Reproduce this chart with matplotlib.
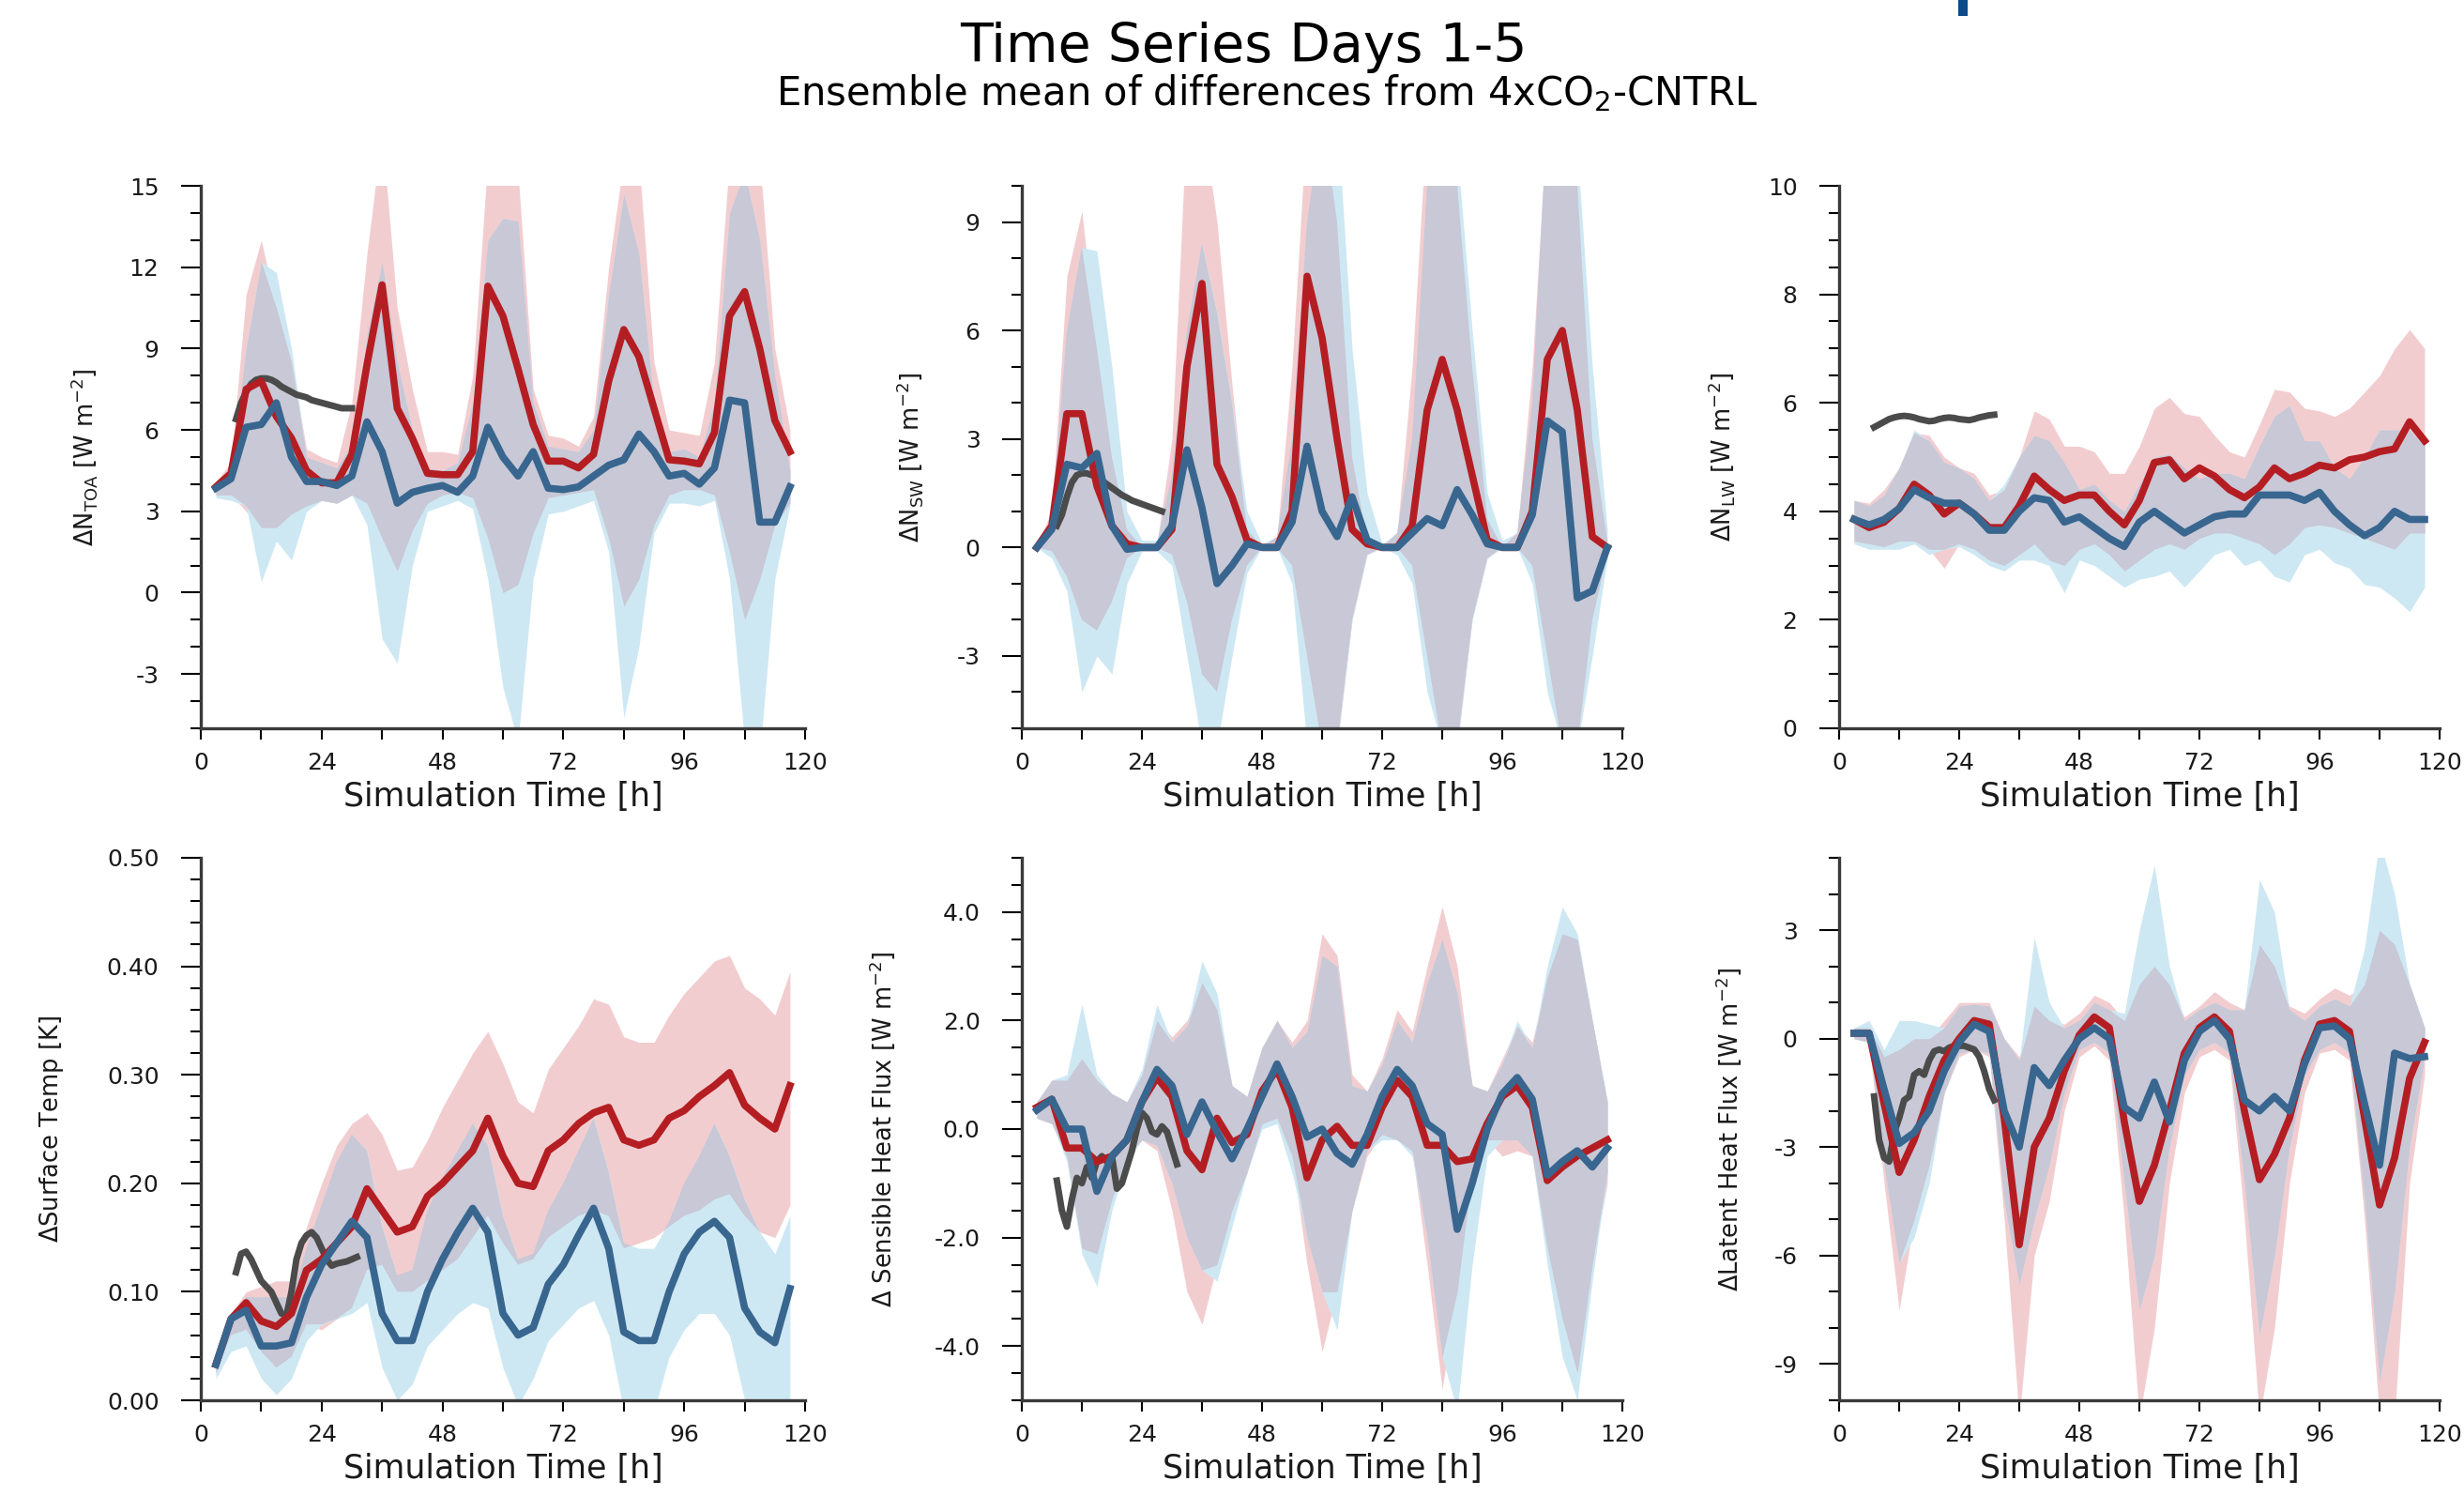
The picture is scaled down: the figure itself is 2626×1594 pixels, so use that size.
import numpy as np
import matplotlib
matplotlib.use('Agg')
from matplotlib import pyplot as plt
from matplotlib.patches import Rectangle
from matplotlib.ticker import MultipleLocator, FormatStrFormatter

plt.rcParams['font.family'] = ['DejaVu Sans']
plt.rcParams['mathtext.fontset'] = 'dejavusans'
plt.rcParams['mathtext.default'] = 'regular'
plt.rcParams['axes.unicode_minus'] = False

# simulation time [h] of the ensemble output (3-hourly) and of the single run (hourly)
hours = np.arange(3, 120, 3)
hours_single = np.arange(7, 32)

# --- dN TOA ---
toa_red = [3.9, 4.4, 7.5, 7.8, 6.5, 5.7, 4.5, 4.05, 4.05, 5.1, 8.4, 11.35, 6.8, 5.7, 4.4, 4.35, 4.35, 5.2, 11.3, 10.2,
           8.25, 6.2, 4.85, 4.85, 4.6, 5.1, 7.8, 9.7, 8.7, 6.8, 4.9, 4.85, 4.75, 5.9, 10.2, 11.1, 9.0, 6.35, 5.2]
toa_blue = [3.85, 4.2, 6.1, 6.2, 7.0, 5.0, 4.1, 4.1, 3.95, 4.3, 6.3, 5.2, 3.3, 3.7, 3.85, 3.95, 3.7, 4.3, 6.1, 5.0,
            4.3, 5.2, 3.85, 3.8, 3.9, 4.3, 4.7, 4.9, 5.85, 5.2, 4.3, 4.4, 4.0, 4.6, 7.1, 7.0, 2.6, 2.6, 3.9]
toa_red_hi = [4.1, 4.8, 11.0, 13.0, 10.5, 8.5, 5.3, 5.0, 4.8, 7.0, 12.5, 17, 10.5, 7.5, 5.2, 5.2, 5.1, 8.0, 16, 17,
              15.5, 7.5, 5.8, 5.7, 5.4, 6.5, 12, 16, 16, 8.5, 6.0, 5.9, 5.8, 8.5, 16, 17, 16, 9, 6.0]
toa_red_lo = [3.6, 3.6, 3.0, 2.4, 2.4, 2.9, 3.2, 3.4, 3.3, 3.6, 3.3, 2.0, 0.8, 2.3, 3.3, 3.6, 3.7, 3.5, 2.0, 0.0,
              0.3, 2.2, 3.5, 3.6, 3.7, 3.8, 2.0, -0.5, 0.5, 2.5, 3.6, 3.8, 3.8, 3.6, 1.5, -1.0, 0.5, 2.5, 3.3]
toa_blue_hi = [4.0, 4.6, 9.0, 12.2, 11.8, 9.0, 5.0, 4.8, 4.6, 5.5, 9.5, 12.2, 8.5, 6.0, 4.6, 4.5, 4.8, 7.0, 13.0, 13.8,
               13.7, 7.0, 5.4, 5.3, 5.2, 6.0, 11.0, 14.7, 12.5, 7.0, 5.2, 5.3, 5.0, 7.0, 14, 15.5, 13, 8.0, 4.5]
toa_blue_lo = [3.5, 3.4, 3.2, 0.4, 1.9, 1.2, 3.0, 3.4, 3.3, 3.6, 2.5, -1.7, -2.6, 1.0, 3.0, 3.2, 3.4, 3.1, 0.5, -3.5,
               -5.5, 0.5, 2.9, 3.0, 3.2, 3.4, 1.5, -4.6, -2.0, 2.2, 3.3, 3.3, 3.2, 3.4, 0.5, -5.5, -6, 0.5, 3.2]
toa_single = [6.4, 7.0, 7.4, 7.7, 7.85, 7.9, 7.9, 7.85, 7.75, 7.6, 7.5, 7.4, 7.3, 7.25, 7.2, 7.1, 7.05, 7.0, 6.95,
              6.9, 6.85, 6.8, 6.8, 6.8, np.nan]

# --- dN SW ---
sw_red = [0, 0.6, 3.7, 3.7, 1.7, 0.6, 0.1, 0, 0, 0.5, 5.0, 7.3, 2.3, 1.4, 0.2, 0, 0, 1.0, 7.5, 5.8,
          3.0, 0.5, 0.1, 0, 0, 0.6, 3.8, 5.2, 3.8, 2.0, 0.2, 0, 0, 1.0, 5.2, 6.0, 3.8, 0.3, 0.0]
sw_blue = [0, 0.5, 2.3, 2.2, 2.6, 0.6, -0.05, 0, 0, 0.6, 2.7, 1.1, -1.0, -0.5, 0.1, 0, 0, 0.7, 2.8, 1.0,
           0.3, 1.4, 0.2, 0, 0, 0.4, 0.8, 0.6, 1.6, 0.9, 0.1, 0, 0, 0.9, 3.5, 3.2, -1.4, -1.2, 0.0]
sw_red_hi = [0.1, 1.0, 7.5, 9.3, 5.5, 2.5, 0.5, 0.0, 0.1, 3.0, 12, 12, 9.0, 4.5, 0.5, 0.0, 0.3, 5.0, 12, 12,
             9.0, 2.5, 0.2, 0.0, 0.4, 5.0, 12, 12, 10, 5.0, 0.8, 0.0, 0.4, 5.0, 12, 12, 10, 3.0, 0.2]
sw_red_lo = [0, -0.1, -0.8, -2.0, -2.3, -1.5, -0.3, 0, 0, -0.2, -1.5, -3.5, -4.0, -2.0, -0.5, 0, 0, -0.5, -3.0, -5.5,
             -5.5, -2.0, -0.2, 0, 0, -0.5, -3.0, -5.5, -5.5, -2.0, -0.3, 0, 0, -0.5, -3.0, -5.5, -5.5, -2.0, -0.2]
sw_blue_hi = [0.1, 0.8, 6.0, 8.3, 8.2, 5.0, 1.0, 0.2, 0.2, 2.0, 6.0, 8.4, 6.5, 4.0, 1.0, 0.1, 0.3, 3.0, 9.0, 12,
              12, 5.5, 1.5, 0.1, 0.4, 3.0, 10, 12, 11, 6.0, 1.5, 0.2, 0.4, 4.0, 12, 12, 11, 5.0, 0.5]
sw_blue_lo = [0, -0.3, -1.2, -4.0, -3.0, -3.5, -1.0, -0.1, -0.1, -0.5, -3.0, -5.5, -5.5, -3.0, -0.7, 0, 0, -1.0, -5.5,
              -5.5, -5.5, -2.0, -0.2, 0, -0.2, -1.0, -4.0, -5.5, -5.5, -2.0, -0.3, 0, 0, -1.0, -4.0, -5.5, -5.5, -3.0,
              -0.3]
sw_single = [0.6, 0.9, 1.4, 1.8, 2.0, 2.05, 2.05, 2.0, 1.95, 1.85, 1.75, 1.65, 1.55, 1.45, 1.38, 1.3, 1.25, 1.2, 1.15,
             1.1, 1.05, 1.0, np.nan, np.nan, np.nan]

# --- dN LW ---
lw_red = [3.85, 3.7, 3.8, 4.05, 4.5, 4.3, 3.95, 4.15, 3.95, 3.7, 3.7, 4.1, 4.65, 4.4, 4.2, 4.3, 4.3, 4.0, 3.75, 4.2,
          4.9, 4.95, 4.6, 4.8, 4.65, 4.4, 4.25, 4.45, 4.8, 4.6, 4.7, 4.85, 4.8, 4.95, 5.0, 5.1, 5.15, 5.65, 5.3]
lw_blue = [3.85, 3.75, 3.85, 4.05, 4.4, 4.25, 4.15, 4.15, 3.95, 3.65, 3.65, 4.0, 4.25, 4.2, 3.8, 3.9, 3.7, 3.5, 3.35,
           3.8, 4.0, 3.8, 3.6, 3.75, 3.9, 3.95, 3.95, 4.3, 4.3, 4.3, 4.2, 4.35, 4.0, 3.75, 3.55, 3.7, 4.0, 3.85, 3.85]
lw_red_hi = [4.2, 4.15, 4.4, 4.8, 5.45, 5.4, 5.0, 4.8, 4.7, 4.3, 4.4, 5.0, 5.85, 5.7, 5.2, 5.2, 5.1, 4.7, 4.7, 5.2,
             5.9, 6.1, 5.8, 5.75, 5.4, 5.1, 5.0, 5.6, 6.25, 6.2, 5.9, 5.85, 5.75, 5.9, 6.2, 6.5, 7.0, 7.35, 7.0]
lw_red_lo = [3.45, 3.4, 3.35, 3.45, 3.45, 3.3, 2.95, 3.4, 3.3, 3.1, 3.0, 3.2, 3.4, 3.1, 3.0, 3.3, 3.4, 3.2, 2.9, 3.1,
             3.3, 3.4, 3.3, 3.5, 3.6, 3.6, 3.5, 3.4, 3.2, 3.4, 3.7, 3.75, 3.7, 3.6, 3.5, 3.4, 3.3, 3.6, 3.6]
lw_blue_hi = [4.2, 4.1, 4.3, 4.8, 5.5, 5.3, 4.9, 4.8, 4.6, 4.2, 4.5, 5.0, 5.4, 5.3, 4.9, 4.4, 4.5, 4.2, 4.0, 4.5,
              5.0, 5.05, 4.8, 4.6, 4.7, 4.7, 4.6, 5.2, 5.75, 5.95, 5.3, 5.3, 4.8, 4.6, 5.0, 5.5, 5.5, 5.5, 5.2]
lw_blue_lo = [3.4, 3.3, 3.3, 3.3, 3.4, 3.2, 3.3, 3.35, 3.2, 3.0, 2.9, 3.1, 3.1, 3.0, 2.5, 3.1, 3.0, 2.8, 2.6, 2.75,
              2.8, 2.9, 2.6, 2.9, 3.2, 3.3, 3.0, 3.1, 2.8, 2.7, 3.2, 3.3, 3.05, 2.95, 2.65, 2.6, 2.4, 2.15, 2.6]
lw_single = [5.55, 5.6, 5.65, 5.7, 5.73, 5.75, 5.76, 5.75, 5.73, 5.7, 5.68, 5.66, 5.67, 5.7, 5.72, 5.73, 5.72, 5.7,
             5.69, 5.68, 5.7, 5.73, 5.75, 5.77, 5.78]

# --- dSurface temperature ---
ts_red = [0.033, 0.075, 0.09, 0.073, 0.068, 0.08, 0.12, 0.13, 0.145, 0.16, 0.195, 0.175, 0.155, 0.16, 0.188, 0.2,
          0.215, 0.23, 0.26, 0.225, 0.2, 0.197, 0.23, 0.24, 0.255, 0.265, 0.27, 0.24, 0.235, 0.24, 0.26, 0.267, 0.28,
          0.29, 0.302, 0.272, 0.26, 0.25, 0.29]
ts_blue = [0.033, 0.075, 0.083, 0.05, 0.05, 0.053, 0.095, 0.125, 0.145, 0.165, 0.15, 0.08, 0.055, 0.055, 0.1, 0.13,
           0.155, 0.177, 0.155, 0.08, 0.06, 0.067, 0.107, 0.125, 0.152, 0.177, 0.14, 0.063, 0.055, 0.055, 0.1, 0.135,
           0.155, 0.165, 0.15, 0.085, 0.063, 0.053, 0.103]
ts_red_hi = [0.04, 0.08, 0.1, 0.105, 0.11, 0.11, 0.16, 0.2, 0.235, 0.255, 0.265, 0.245, 0.212, 0.215, 0.24, 0.27,
             0.295, 0.32, 0.34, 0.31, 0.275, 0.265, 0.305, 0.325, 0.345, 0.37, 0.365, 0.335, 0.33, 0.33, 0.355, 0.375,
             0.39, 0.405, 0.41, 0.38, 0.37, 0.355, 0.395]
ts_red_lo = [0.025, 0.06, 0.065, 0.045, 0.03, 0.04, 0.07, 0.065, 0.075, 0.085, 0.12, 0.125, 0.1, 0.1, 0.11, 0.12,
             0.13, 0.15, 0.17, 0.145, 0.125, 0.13, 0.15, 0.16, 0.17, 0.175, 0.17, 0.14, 0.145, 0.15, 0.16, 0.17,
             0.175, 0.185, 0.19, 0.17, 0.155, 0.15, 0.18]
ts_blue_hi = [0.035, 0.075, 0.095, 0.095, 0.095, 0.095, 0.14, 0.18, 0.22, 0.245, 0.23, 0.16, 0.115, 0.12, 0.175,
              0.205, 0.23, 0.255, 0.235, 0.17, 0.13, 0.135, 0.175, 0.2, 0.23, 0.26, 0.21, 0.145, 0.14, 0.14, 0.165,
              0.2, 0.225, 0.255, 0.225, 0.185, 0.155, 0.135, 0.17]
ts_blue_lo = [0.02, 0.045, 0.05, 0.02, 0.005, 0.02, 0.055, 0.07, 0.075, 0.08, 0.09, 0.03, 0.0, 0.015, 0.05, 0.065,
              0.08, 0.09, 0.085, 0.03, -0.005, 0.02, 0.055, 0.07, 0.085, 0.092, 0.06, -0.01, -0.01, -0.01, 0.04,
              0.065, 0.08, 0.08, 0.06, 0.0, -0.01, -0.01, 0.0]
ts_single = [0.118, 0.135, 0.137, 0.13, 0.12, 0.11, 0.105, 0.1, 0.09, 0.08, 0.078, 0.1, 0.13, 0.145, 0.152, 0.155,
             0.15, 0.14, 0.13, 0.124, 0.126, 0.127, 0.128, 0.13, 0.132]

# --- d sensible heat flux ---
sh_red = [0.4, 0.55, -0.35, -0.35, -0.6, -0.5, -0.2, 0.5, 0.95, 0.6, -0.4, -0.75, 0.2, -0.25, -0.1, 0.7, 1.1, 0.4,
          -0.9, -0.2, 0.05, -0.3, -0.3, 0.4, 0.9, 0.6, -0.3, -0.3, -0.6, -0.55, 0.1, 0.6, 0.8, 0.4, -0.95, -0.7, -0.5,
          -0.35, -0.2]
sh_blue = [0.35, 0.55, 0.0, 0.0, -1.15, -0.5, -0.2, 0.5, 1.1, 0.8, -0.1, 0.5, -0.05, -0.55, 0.0, 0.6, 1.2, 0.6,
           -0.15, 0.0, -0.45, -0.65, -0.1, 0.6, 1.1, 0.8, 0.1, -0.1, -1.85, -1.0, 0.0, 0.65, 0.95, 0.55, -0.85, -0.6,
           -0.4, -0.7, -0.35]
sh_red_hi = [0.5, 0.9, 0.9, 1.3, 0.9, 0.65, 0.5, 1.0, 2.0, 1.7, 2.0, 2.7, 2.2, 0.8, 0.6, 1.5, 2.0, 1.6, 2.0, 3.6,
             3.2, 1.0, 0.7, 1.3, 2.2, 1.8, 3.0, 4.1, 3.0, 0.8, 0.7, 1.3, 1.9, 1.6, 2.8, 3.6, 3.5, 2.0, 0.5]
sh_red_lo = [0.2, 0.1, -0.5, -2.2, -2.3, -1.3, -0.5, -0.2, -0.4, -1.5, -3.0, -3.6, -2.5, -1.5, -0.8, 0.1, 0.2, -0.5,
             -2.5, -4.1, -3.0, -1.5, -0.5, -0.1, -0.2, -0.4, -2.5, -4.8, -3.0, -0.8, -0.2, -0.5, -0.4, -0.5, -2.2,
             -3.5, -4.5, -2.5, -1.0]
sh_blue_hi = [0.5, 0.9, 1.0, 2.3, 1.0, 0.65, 0.5, 1.1, 2.3, 1.6, 1.9, 3.1, 2.5, 0.8, 0.6, 1.5, 2.0, 1.5, 1.8, 3.2,
              3.0, 0.8, 0.7, 1.2, 2.0, 1.6, 2.7, 3.5, 2.5, 0.8, 0.7, 1.2, 2.0, 1.5, 3.0, 4.1, 3.6, 2.0, 0.5]
sh_blue_lo = [0.2, 0.1, -0.6, -2.3, -2.9, -1.5, -0.6, -0.2, -0.3, -1.0, -2.0, -2.6, -2.8, -1.8, -0.8, 0.0, 0.1, -0.8,
              -2.0, -3.0, -3.7, -1.5, -0.4, -0.2, -0.2, -0.5, -2.0, -4.2, -5.2, -2.5, -0.5, -0.2, -0.2, -0.5, -2.5,
              -4.2, -5.0, -2.8, -0.8]
sh_single = [-0.95, -1.5, -1.8, -1.3, -0.9, -1.0, -0.7, -0.9, -0.6, -0.5, -0.6, -0.5, -1.1, -1.0, -0.7, -0.4, 0.0,
             0.3, 0.2, -0.05, -0.1, 0.05, -0.05, -0.35, -0.65]

# --- d latent heat flux ---
lh_red = [0.15, 0.15, -1.8, -3.7, -2.8, -1.6, -0.6, 0.0, 0.5, 0.4, -2.2, -5.7, -3.0, -2.2, -0.9, 0.1, 0.6, 0.3, -2.3,
          -4.5, -3.5, -2.0, -0.4, 0.3, 0.6, 0.2, -2.0, -3.9, -3.2, -2.2, -0.6, 0.4, 0.5, 0.2, -2.2, -4.6, -3.3, -1.1,
          -0.1]
lh_blue = [0.15, 0.15, -1.4, -2.9, -2.6, -2.0, -0.9, -0.1, 0.4, 0.2, -2.0, -3.0, -0.8, -1.3, -0.6, 0.0, 0.3, 0.0,
           -1.9, -2.2, -1.2, -2.3, -0.6, 0.2, 0.5, 0.0, -1.7, -2.0, -1.6, -2.0, -0.7, 0.3, 0.35, 0.0, -1.8, -3.5, -0.4,
           -0.55, -0.5]
lh_red_hi = [0.3, 0.3, -0.5, -0.3, 0.0, 0.0, 0.5, 1.0, 1.0, 1.0, 0.0, -0.5, 0.9, 0.5, 0.4, 0.7, 1.2, 1.0, 0.5, 1.5,
             2.0, 1.5, 0.6, 0.9, 1.3, 1.0, 0.8, 2.6, 2.0, 0.9, 0.7, 1.1, 1.4, 1.2, 1.5, 3.0, 2.6, 1.5, 0.3]
lh_red_lo = [0.0, -0.1, -4.0, -7.5, -5.0, -3.5, -1.5, -0.5, -0.3, -0.5, -5.0, -10.5, -6.0, -4.5, -2.0, -0.5, -0.2,
             -0.6, -5.0, -10.5, -8.0, -4.0, -1.5, -0.5, -0.3, -0.6, -5.0, -10.5, -8.0, -4.0, -1.5, -0.4, -0.3, -0.6,
             -5.0, -10.5, -10.5, -4.0, -1.0]
lh_blue_hi = [0.3, 0.5, -0.3, 0.5, 0.5, 0.4, 0.3, 0.9, 0.95, 0.9, 0.0, -0.6, 2.8, 1.0, 0.3, 0.5, 1.0, 0.8, 0.7, 3.0,
              4.8, 2.0, 0.5, 0.8, 1.0, 0.8, 0.8, 4.4, 3.5, 0.8, 0.5, 0.9, 1.1, 0.9, 2.5, 5.5, 4.0, 1.5, 0.3]
lh_blue_lo = [0.0, -0.1, -3.5, -6.2, -5.5, -4.0, -1.5, -0.4, -0.3, -0.4, -4.5, -6.8, -5.0, -3.5, -1.5, -0.3, -0.1,
              -0.4, -4.0, -7.5, -6.0, -3.0, -1.0, -0.3, -0.1, -0.4, -4.0, -8.2, -6.0, -3.0, -1.0, -0.3, -0.1, -0.4,
              -4.5, -9.5, -7.0, -3.0, -0.5]
lh_single = [-1.6, -2.8, -3.3, -3.4, -2.6, -2.2, -1.7, -1.6, -1.0, -0.9, -1.0, -0.6, -0.35, -0.3, -0.35, -0.25, -0.2,
             -0.2, -0.2, -0.25, -0.3, -0.5, -0.9, -1.4, -1.7]

ylabels = [r'$\Delta$N$_{\mathrm{TOA}}$ [W m$^{\mathrm{-2}}$]',
           r'$\Delta$N$_{\mathrm{SW}}$ [W m$^{\mathrm{-2}}$]',
           r'$\Delta$N$_{\mathrm{LW}}$ [W m$^{\mathrm{-2}}$]',
           r'$\Delta$Surface Temp [K]',
           r'$\Delta$ Sensible Heat Flux [W m$^{\mathrm{-2}}$]',
           r'$\Delta$Latent Heat Flux [W m$^{\mathrm{-2}}$]']

RED = '#b41e23'
BLUE = '#38668f'
GREY = '#4b4b4b'
PINK = '#f2cdd0'
LBLUE = '#cee8f3'
OVERLAP = '#c8c8d6'

panels = [
    dict(red=toa_red, blue=toa_blue, rhi=toa_red_hi, rlo=toa_red_lo, bhi=toa_blue_hi, blo=toa_blue_lo,
         single=toa_single, ylim=(-5, 15), major=3, minor=1, fmt='%d'),
    dict(red=sw_red, blue=sw_blue, rhi=sw_red_hi, rlo=sw_red_lo, bhi=sw_blue_hi, blo=sw_blue_lo,
         single=sw_single, ylim=(-5, 10), major=3, minor=1, fmt='%d'),
    dict(red=lw_red, blue=lw_blue, rhi=lw_red_hi, rlo=lw_red_lo, bhi=lw_blue_hi, blo=lw_blue_lo,
         single=lw_single, ylim=(0, 10), major=2, minor=0.5, fmt='%d'),
    dict(red=ts_red, blue=ts_blue, rhi=ts_red_hi, rlo=ts_red_lo, bhi=ts_blue_hi, blo=ts_blue_lo,
         single=ts_single, ylim=(0, 0.5), major=0.1, minor=0.02, fmt='%.2f'),
    dict(red=sh_red, blue=sh_blue, rhi=sh_red_hi, rlo=sh_red_lo, bhi=sh_blue_hi, blo=sh_blue_lo,
         single=sh_single, ylim=(-5, 5), major=2, minor=0.5, fmt='%.1f'),
    dict(red=lh_red, blue=lh_blue, rhi=lh_red_hi, rlo=lh_red_lo, bhi=lh_blue_hi, blo=lh_blue_lo,
         single=lh_single, ylim=(-10, 5), major=3, minor=1, fmt='%d'),
]

W, H = 2626, 1594
lefts = [214, 1089, 1960]
widths = [644, 640, 640]
bottoms = [776, 1492]
ylabel_x = [-0.193, -0.187, -0.195, -0.247, -0.232, -0.184]

fig = plt.figure(figsize=(W / 100, H / 100), dpi=100)

for i, p in enumerate(panels):
    row, col = divmod(i, 3)
    ax = fig.add_axes([lefts[col] / W, 1 - bottoms[row] / H, widths[col] / W, 578 / H])

    rlo, rhi = np.array(p['rlo']), np.array(p['rhi'])
    blo, bhi = np.array(p['blo']), np.array(p['bhi'])
    ax.fill_between(hours, rlo, rhi, color=PINK, lw=0)
    ax.fill_between(hours, blo, bhi, color=LBLUE, lw=0)
    lo = np.maximum(rlo, blo)
    hi = np.minimum(rhi, bhi)
    ax.fill_between(hours, lo, hi, where=hi > lo, interpolate=True, color=OVERLAP, lw=0)

    ax.plot(hours_single, p['single'], color=GREY, lw=5)
    ax.plot(hours, p['red'], color=RED, lw=5.5)
    ax.plot(hours, p['blue'], color=BLUE, lw=5.5)

    ax.set_xlim(0, 120)
    ax.set_ylim(*p['ylim'])
    ax.xaxis.set_major_locator(MultipleLocator(24))
    ax.xaxis.set_minor_locator(MultipleLocator(12))
    ax.yaxis.set_major_locator(MultipleLocator(p['major']))
    ax.yaxis.set_minor_locator(MultipleLocator(p['minor']))
    ax.yaxis.set_major_formatter(FormatStrFormatter(p['fmt']))

    for side in ('top', 'right'):
        ax.spines[side].set_visible(False)
    for side in ('left', 'bottom'):
        ax.spines[side].set_color('#3a3a3a')
        ax.spines[side].set_linewidth(2.4)

    ax.tick_params(axis='x', which='both', direction='out', length=8.6, width=1.5, color='black',
                   labelsize=18, pad=9.5, labelcolor='#1a1a1a')
    ax.tick_params(axis='y', which='major', direction='out', length=15, width=1.5, color='black',
                   labelsize=18, pad=17, labelcolor='#1a1a1a')
    ax.tick_params(axis='y', which='minor', direction='out', length=8, width=1.5, color='black')

    ax.set_xlabel('Simulation Time [h]', fontsize=25, color='#1a1a1a')
    ax.xaxis.set_label_coords(0.5, -0.127)
    ax.xaxis.label.set_verticalalignment('center')
    ax.set_ylabel(ylabels[i], fontsize=18.5, color='#1a1a1a')
    ax.yaxis.set_label_coords(ylabel_x[i], 0.5)
    ax.yaxis.label.set_verticalalignment('center')

fig.text(0.5046, 0.9686, 'Time Series Days 1-5', ha='center', va='center', fontsize=41, color='black')
fig.text(0.514, 0.938, r'Ensemble mean of differences from 4xCO$_2$-CNTRL', ha='center', va='center',
         fontsize=30, color='black')
fig.patches.append(Rectangle((2087 / W, 1 - 17 / H), 10 / W, 17 / H, transform=fig.transFigure,
                             color='#0b4a8b', lw=0))

fig.savefig('out.png', dpi=100)
